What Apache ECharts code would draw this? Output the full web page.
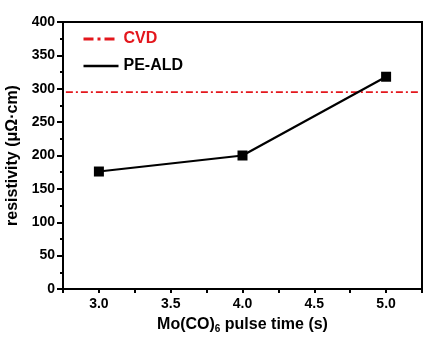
<!DOCTYPE html>
<html><head><meta charset="utf-8">
<script src="https://cdn.jsdelivr.net/npm/echarts@6/dist/echarts.min.js"></script>
<style>html,body{margin:0;padding:0;background:#fff}#c{width:440px;height:338px}</style>
</head><body><div id="c"></div>
<script>
const pulseTimes = [3.0, 4.0, 5.0];
const peAldValues = [176, 200, 318];
const cvdX = [2.77, 5.23];
const cvdValues = [295, 295];
const xLabels = ['3.0', '3.5', '4.0', '4.5', '5.0'];
const yTicks = [0, 50, 100, 150, 200, 250, 300, 350, 400];

const font = 'Liberation Sans, Arial, sans-serif';
const chart = echarts.init(document.getElementById('c'), null, {renderer: 'canvas'});
chart.setOption({
  animation: false,
  grid: {left: 63, top: 22, right: 18, bottom: 49, containLabel: false, outerBoundsMode: 'none',
         show: true, borderColor: '#000', borderWidth: 2, backgroundColor: 'transparent'},
  legend: {
    orient: 'vertical', left: 77, top: 26, itemWidth: 35, itemHeight: 14, itemGap: 11,
    textStyle: {fontFamily: font, fontWeight: 'bold', fontSize: 16, color: '#000'},
    data: [
      {name: 'CVD', textStyle: {color: '#e3161c'}, itemStyle: {opacity: 0}, lineStyle: {width: 3, type: [10, 4, 3, 4]}},
      {name: 'PE-ALD', itemStyle: {opacity: 0}, lineStyle: {width: 2.6}}
    ]
  },
  xAxis: {
    type: 'value', min: 2.75, max: 5.25, interval: 0.25,
    name: '{a|Mo(CO)}{s|6}{a| pulse time (s)}', nameLocation: 'middle', nameGap: 26,
    nameTextStyle: {rich: {
      a: {fontFamily: font, fontWeight: 'bold', fontSize: 16, color: '#000'},
      s: {fontFamily: font, fontWeight: 'bold', fontSize: 10, color: '#000', verticalAlign: 'bottom', padding: [9, 0, 0, 0]}
    }},
    axisLine: {lineStyle: {color: '#000', width: 2}},
    axisTick: {length: 4, lineStyle: {color: '#000', width: 2}},
    splitLine: {show: false},
    axisLabel: {
      margin: 8, fontFamily: font, fontWeight: 'bold', fontSize: 14, color: '#000',
      formatter: v => { const s = v.toFixed(1); return (Math.abs(v * 2 - Math.round(v * 2)) < 1e-6 && xLabels.includes(s)) ? s : ''; }
    }
  },
  yAxis: {
    type: 'value', min: 0, max: 400, interval: 50,
    name: 'resistivity (μΩ·cm)', nameLocation: 'middle', nameGap: 38,
    nameTextStyle: {fontFamily: font, fontWeight: 'bold', fontSize: 16, color: '#000'},
    axisLine: {show: true, lineStyle: {color: '#000', width: 2}},
    axisTick: {show: true, length: 6, lineStyle: {color: '#000', width: 2}},
    minorTick: {show: true, splitNumber: 2, length: 3, lineStyle: {color: '#000', width: 2}},
    splitLine: {show: false},
    axisLabel: {margin: 8, fontFamily: font, fontWeight: 'bold', fontSize: 14, color: '#000',
      formatter: v => yTicks.includes(v) ? String(v) : ''}
  },
  series: [
    {name: 'CVD', type: 'line', symbol: 'none', data: cvdX.map((x, i) => [x, cvdValues[i]]),
     lineStyle: {color: '#e3161c', width: 1.6, type: [7, 3, 2, 3]}, itemStyle: {color: '#e3161c'}},
    {name: 'PE-ALD', type: 'line', symbol: 'rect', symbolSize: 10, data: pulseTimes.map((x, i) => [x, peAldValues[i]]),
     lineStyle: {color: '#000', width: 2.2}, itemStyle: {color: '#000'}}
  ]
});
</script></body></html>
